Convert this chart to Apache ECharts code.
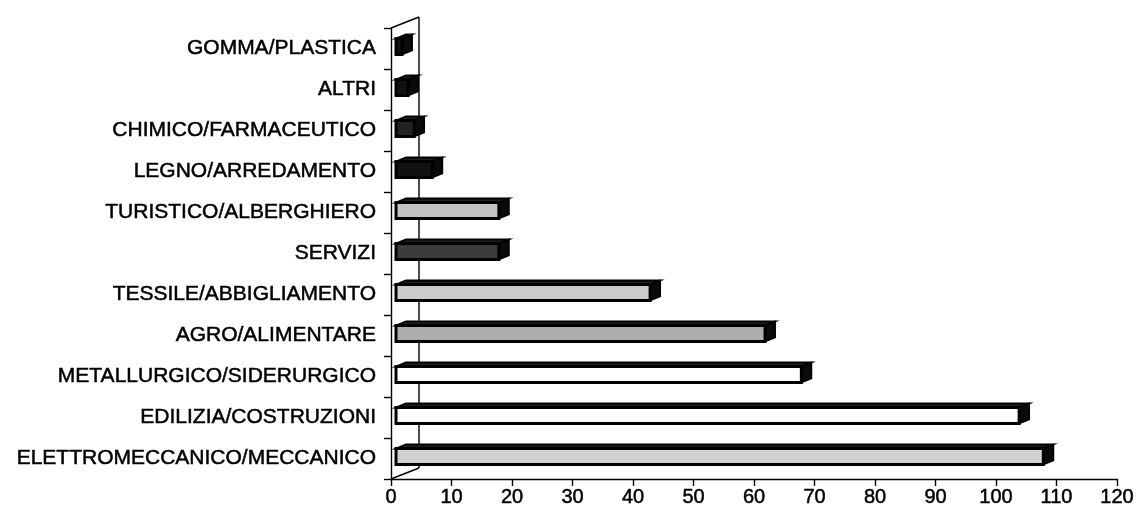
<!DOCTYPE html>
<html>
<head>
<meta charset="utf-8">
<title>Settori</title>
<script src="https://cdn.jsdelivr.net/npm/echarts@6/dist/echarts.min.js"></script>
<style>
  html, body { margin: 0; padding: 0; background: #ffffff; }
  #chart { width: 1137px; height: 522px; }
</style>
</head>
<body>
<div id="chart"></div>
<script>
// Sectors, listed bottom to top along the category axis
const categories = [
  'ELETTROMECCANICO/MECCANICO',
  'EDILIZIA/COSTRUZIONI',
  'METALLURGICO/SIDERURGICO',
  'AGRO/ALIMENTARE',
  'TESSILE/ABBIGLIAMENTO',
  'SERVIZI',
  'TURISTICO/ALBERGHIERO',
  'LEGNO/ARREDAMENTO',
  'CHIMICO/FARMACEUTICO',
  'ALTRI',
  'GOMMA/PLASTICA'
];
const values = [107, 103, 67, 61, 42, 17, 17, 6, 3, 2, 1];
const valueTicks = [0, 10, 20, 30, 40, 50, 60, 70, 80, 90, 100, 110, 120];

// Face fill of each bar (same order as categories)
const barFills = [
  '#d0d0d0', '#ffffff', '#ffffff', '#adadad', '#cbcbcb',
  '#3c3c3c', '#c2c2c2', '#111111', '#222222', '#111111', '#111111'
];

// Pseudo-3D geometry (pixels)
const WALL_DX = 28, WALL_DY = -11;   // depth of the plot box
const FRONT_DX = 5, FRONT_DY = -2;   // bar front face inside the box
const BAR_DX = 10, BAR_DY = -4;      // bar thickness in depth
const BAR_H = 16;

const FONT = '"Liberation Sans", Arial, sans-serif';

const chart = echarts.init(document.getElementById('chart'), null, { renderer: 'canvas' });

function renderWall(params, api) {
  const cs = params.coordSys;
  const x = cs.x, y = cs.y, h = cs.height;
  const ls = { stroke: '#000', lineWidth: 1.4, fill: null };
  return {
    type: 'group',
    children: [
      { type: 'line', shape: { x1: x, y1: y, x2: x + WALL_DX, y2: y + WALL_DY }, style: ls },
      { type: 'line', shape: { x1: x + WALL_DX, y1: y + WALL_DY, x2: x + WALL_DX, y2: y + h + WALL_DY }, style: ls },
      { type: 'line', shape: { x1: x, y1: y + h, x2: x + WALL_DX, y2: y + h + WALL_DY }, style: ls }
    ]
  };
}

function renderBar(params, api) {
  const idx = api.value(1);
  const base = api.coord([0, idx]);
  const end = api.coord([api.value(0), idx]);
  const x0 = base[0] + FRONT_DX;
  const x1 = end[0] + FRONT_DX;
  const yTop = base[1] + FRONT_DY - BAR_H / 2;
  const yBot = yTop + BAR_H;
  const fill = barFills[params.dataIndex];
  return {
    type: 'group',
    children: [
      {
        type: 'polygon',
        shape: { points: [[x0, yTop], [x1, yTop], [x1 + BAR_DX, yTop + BAR_DY], [x0 + BAR_DX, yTop + BAR_DY]] },
        style: { fill: '#1e1e1e', stroke: '#000', lineWidth: 1.8 }
      },
      {
        type: 'polygon',
        shape: { points: [[x1, yTop], [x1 + BAR_DX, yTop + BAR_DY], [x1 + BAR_DX, yBot + BAR_DY], [x1, yBot]] },
        style: { fill: '#0a0a0a', stroke: '#000', lineWidth: 1.8 }
      },
      {
        type: 'rect',
        shape: { x: x0, y: yTop, width: x1 - x0, height: BAR_H },
        style: { fill: fill, stroke: '#000', lineWidth: 3 }
      }
    ]
  };
}

const option = {
  backgroundColor: '#ffffff',
  animation: false,
  grid: { left: 391, right: 20, top: 28, bottom: 43, containLabel: false },
  xAxis: {
    type: 'value',
    min: valueTicks[0],
    max: valueTicks[valueTicks.length - 1],
    interval: valueTicks[1] - valueTicks[0],
    axisLine: { show: true, lineStyle: { color: '#000', width: 1.4 } },
    axisTick: { show: true, length: 7, lineStyle: { color: '#000', width: 1.4 } },
    axisLabel: {
      color: '#000', fontSize: 20, margin: 8, fontFamily: FONT,
      textBorderColor: '#000', textBorderWidth: 0.5
    },
    splitLine: { show: false }
  },
  yAxis: {
    type: 'category',
    data: categories,
    boundaryGap: true,
    axisLine: { show: true, lineStyle: { color: '#000', width: 1.4 } },
    axisTick: { show: true, length: 7, alignWithLabel: false, lineStyle: { color: '#000', width: 1.4 } },
    axisLabel: {
      color: '#000', fontSize: 21, margin: 15, fontFamily: FONT,
      textBorderColor: '#000', textBorderWidth: 0.5
    },
    splitLine: { show: false }
  },
  series: [
    {
      type: 'custom',
      name: 'wall',
      silent: true,
      z: 1,
      renderItem: renderWall,
      data: [[0, 0]],
      encode: { x: 0, y: 1 }
    },
    {
      type: 'custom',
      name: 'Settori',
      z: 2,
      renderItem: renderBar,
      data: values.map((v, i) => [v, i]),
      encode: { x: 0, y: 1 }
    }
  ]
};

chart.setOption(option);
</script>
</body>
</html>
